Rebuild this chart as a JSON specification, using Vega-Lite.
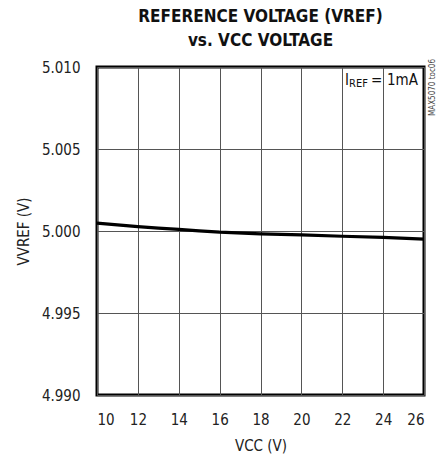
{
  "$schema": "https://vega.github.io/schema/vega-lite/v6.json",
  "width": 327,
  "height": 328,
  "autosize": {"type": "none"},
  "padding": {"left": 97, "top": 67, "right": 16, "bottom": 62},
  "background": "white",
  "config": {
    "font": "DejaVu Sans Condensed, Roboto, sans-serif",
    "view": {"stroke": "black", "strokeWidth": 3},
    "axis": {"labelFont": "DejaVu Sans Condensed, Roboto, sans-serif", "titleFont": "DejaVu Sans Condensed, Roboto, sans-serif", "labelColor": "#222", "titleColor": "#222", "titleFontWeight": "normal"}
  },
  "title": {
    "text": ["REFERENCE VOLTAGE (VREF)", "vs. VCC VOLTAGE"],
    "font": "DejaVu Sans Condensed, Roboto, sans-serif",
    "fontSize": 17,
    "fontWeight": "bold",
    "color": "#111",
    "anchor": "middle",
    "offset": 9,
    "lineHeight": 24
  },
  "data": {
    "values": [
      {"vcc": 10, "vref": 5.00048},
      {"vcc": 11, "vref": 5.00037},
      {"vcc": 12, "vref": 5.00027},
      {"vcc": 13, "vref": 5.00018},
      {"vcc": 14, "vref": 5.00010},
      {"vcc": 15, "vref": 5.00001},
      {"vcc": 16, "vref": 4.99993},
      {"vcc": 18, "vref": 4.99983},
      {"vcc": 20, "vref": 4.99976},
      {"vcc": 22, "vref": 4.99968},
      {"vcc": 24, "vref": 4.99961},
      {"vcc": 26, "vref": 4.99950}
    ]
  },
  "layer": [
    {
      "mark": {"type": "line", "color": "black", "strokeWidth": 3.2},
      "encoding": {
        "x": {
          "field": "vcc", "type": "quantitative",
          "scale": {"domain": [10, 26], "nice": false},
          "axis": {"values": [10, 12, 14, 16, 18, 20, 22, 24, 26], "title": "VCC (V)", "grid": true, "gridColor": "#555", "gridWidth": 1, "gridOpacity": 1, "domain": false, "ticks": false, "labelFontSize": 15, "labelPadding": 17, "titleFontSize": 15, "titlePadding": 11}
        },
        "y": {
          "field": "vref", "type": "quantitative",
          "scale": {"domain": [4.99, 5.01], "nice": false, "zero": false},
          "axis": {"values": [4.99, 4.995, 5.0, 5.005, 5.01], "format": ".3f", "title": "VVREF (V)", "grid": true, "gridColor": "#555", "gridWidth": 1, "gridOpacity": 1, "domain": false, "ticks": false, "labelFontSize": 15, "labelPadding": 17, "titleFontSize": 15, "titlePadding": 10}
        }
      }
    },
    {
      "data": {"values": [{"x": 26, "y": 5.01, "label": "I"}]},
      "mark": {"type": "text", "align": "left", "baseline": "top", "dx": -79, "dy": 6, "fontSize": 15, "color": "#111"},
      "encoding": {
        "x": {"field": "x", "type": "quantitative"},
        "y": {"field": "y", "type": "quantitative"},
        "text": {"field": "label"}
      }
    },
    {
      "data": {"values": [{"x": 26, "y": 5.01, "label": "REF"}]},
      "mark": {"type": "text", "align": "left", "baseline": "top", "dx": -75, "dy": 11, "fontSize": 11, "color": "#111"},
      "encoding": {
        "x": {"field": "x", "type": "quantitative"},
        "y": {"field": "y", "type": "quantitative"},
        "text": {"field": "label"}
      }
    },
    {
      "data": {"values": [{"x": 26, "y": 5.01, "label": "="}]},
      "mark": {"type": "text", "align": "left", "baseline": "top", "dx": -53, "dy": 6, "fontSize": 15, "color": "#111"},
      "encoding": {
        "x": {"field": "x", "type": "quantitative"},
        "y": {"field": "y", "type": "quantitative"},
        "text": {"field": "label"}
      }
    },
    {
      "data": {"values": [{"x": 26, "y": 5.01, "label": "1mA"}]},
      "mark": {"type": "text", "align": "left", "baseline": "top", "dx": -37, "dy": 6, "fontSize": 15, "color": "#111"},
      "encoding": {
        "x": {"field": "x", "type": "quantitative"},
        "y": {"field": "y", "type": "quantitative"},
        "text": {"field": "label"}
      }
    },
    {
      "data": {"values": [{"x": 26, "y": 5.01, "label": "MAX5070 toc06"}]},
      "mark": {"type": "text", "align": "right", "baseline": "middle", "angle": 270, "dx": 8, "dy": 9, "fontSize": 8, "color": "#444"},
      "encoding": {
        "x": {"field": "x", "type": "quantitative"},
        "y": {"field": "y", "type": "quantitative"},
        "text": {"field": "label"}
      }
    }
  ]
}
